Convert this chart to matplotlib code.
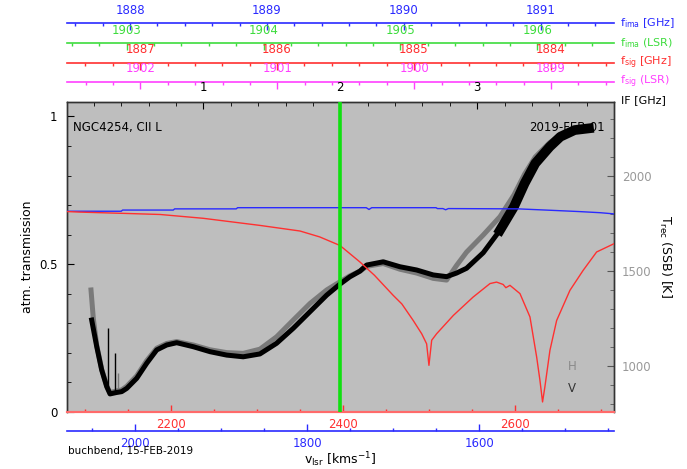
import numpy as np
import matplotlib
matplotlib.use("Agg")
import matplotlib.pyplot as plt
import matplotlib.ticker as mt

plt.rcParams['font.family'] = ['DejaVu Sans']
plt.rcParams['mathtext.fontset'] = 'dejavusans'

# ---------------- data ----------------
# image-band atmospheric transmission (blue)
if_img = [0.0, 0.40, 0.41, 0.78, 0.79, 1.24, 1.25, 1.30, 1.32, 2.19, 2.21, 2.23, 2.70,
          2.71, 2.75, 2.77, 2.79, 3.30, 3.50, 3.74, 3.90, 4.0]
atm_img = [0.679, 0.679, 0.683, 0.683, 0.687, 0.687, 0.691, 0.691, 0.691, 0.691, 0.685,
           0.691, 0.691, 0.688, 0.688, 0.684, 0.688, 0.687, 0.683, 0.678, 0.674, 0.670]
# signal-band atmospheric transmission (red)
if_sig = [0.0, 0.10, 0.40, 0.684, 1.0, 1.413, 1.706, 1.85, 1.998, 2.144, 2.25, 2.387, 2.45,
          2.533, 2.595, 2.631, 2.648, 2.668, 2.704, 2.826, 2.97, 3.094, 3.142, 3.19, 3.21,
          3.24, 3.313, 3.386, 3.435, 3.459, 3.478, 3.495, 3.532, 3.581, 3.678, 3.775, 3.873, 4.0]
atm_sig = [0.678, 0.676, 0.672, 0.668, 0.655, 0.631, 0.612, 0.592, 0.563, 0.507, 0.462, 0.394,
           0.365, 0.309, 0.264, 0.230, 0.157, 0.242, 0.264, 0.326, 0.388, 0.434, 0.439, 0.431,
           0.420, 0.428, 0.400, 0.321, 0.185, 0.106, 0.033, 0.084, 0.208, 0.309, 0.411, 0.479,
           0.541, 0.569]
# receiver temperature, V polarisation (black)
if_v = [0.184, 0.221, 0.257, 0.294, 0.318, 0.362, 0.403, 0.440, 0.513, 0.586, 0.659, 0.732,
        0.805, 0.926, 1.048, 1.170, 1.291, 1.413, 1.535, 1.657, 1.779, 1.901, 1.998, 2.07,
        2.144, 2.193, 2.314, 2.436, 2.558, 2.679, 2.777, 2.850, 2.923, 3.045, 3.167, 3.269,
        3.347, 3.425, 3.530, 3.608, 3.712, 3.817]
trec_v = [1243, 1103, 981, 893, 855, 862, 867, 884, 937, 1016, 1086, 1112, 1124, 1103, 1077,
          1059, 1050, 1065, 1121, 1200, 1287, 1374, 1432, 1470, 1500, 1532, 1549, 1523, 1506,
          1480, 1471, 1490, 1515, 1597, 1715, 1838, 1961, 2066, 2153, 2206, 2241, 2250]
# receiver temperature, H polarisation (grey)
if_h = [0.179, 0.196, 0.221, 0.257, 0.294, 0.318, 0.362, 0.403, 0.440, 0.513, 0.586, 0.659,
        0.732, 0.805, 0.926, 1.048, 1.170, 1.291, 1.413, 1.535, 1.657, 1.779, 1.901, 1.998,
        2.07, 2.144, 2.193, 2.314, 2.436, 2.558, 2.679, 2.777, 2.850, 2.923, 3.045, 3.167,
        3.269, 3.347, 3.425, 3.530, 3.608, 3.712, 3.817]
trec_h = [1401, 1250, 1110, 985, 897, 862, 870, 876, 895, 950, 1030, 1095, 1120, 1130, 1112,
          1087, 1072, 1068, 1090, 1155, 1243, 1330, 1401, 1444, 1475, 1500, 1525, 1540, 1510,
          1490, 1462, 1453, 1530, 1600, 1690, 1786, 1900, 2010, 2100, 2175, 2215, 2245, 2255]
# narrow spikes
spike_v_if = [0.301, 0.357]
spike_v_base = [880, 866]
spike_v_top = [1201, 1068]
spike_h_if = [0.374]
spike_h_base = [868]
spike_h_top = [965]
# line IF marker
line_if = 2.0
# axis conversions  (value = offset + slope * IF)
fima_off, fima_slope = 1887.536, 1.0
fimal_off, fimal_slope = 1902.56, 1.0
fsig_off, fsig_slope = 1887.538, -1.0
fsigl_off, fsigl_slope = 1902.54, -1.0
vsig_off, vsig_slope = 2079.0, 158.9
vlsr_off, vlsr_slope = 2079.5, -159.0
# tick labels
if_ticks = [1, 2, 3]
atm_ticks = [0, 0.5, 1]
atm_labels = ['0', '0.5', '1']
trec_ticks = [1000, 1500, 2000]
fima_ticks = [1888, 1889, 1890, 1891]
fimal_ticks = [1903, 1904, 1905, 1906]
fsig_ticks = [1884, 1885, 1886, 1887]
fsigl_ticks = [1899, 1900, 1901, 1902]
vsig_ticks = [2200, 2400, 2600]
vlsr_ticks = [1600, 1800, 2000]

# ---------------- styling ----------------
BLUE = '#2a2aff'
GREEN = '#3ddc3d'
RED = '#ff3030'
MAG = '#ff40ff'
BG = '#bebebe'
FS = 8.5

W, H = 687, 469
fig = plt.figure(figsize=(W / 100, H / 100), dpi=100)
L, R, T, B = 66.5, 614.0, 101.7, 411.7
ax = fig.add_axes([L / W, 1 - B / H, (R - L) / W, (B - T) / H])
ax2 = ax.twinx()
ax.set_zorder(2)
ax2.set_zorder(1)
ax.patch.set_visible(False)
ax2.patch.set_visible(True)
ax2.set_facecolor(BG)

ax.set_xlim(0, 4)
ax.set_ylim(0, 1.05)
ax2.set_ylim(761.6, 2390)

# T_rec curves (behind)
ax2.text(0.9836, 0.918, '2019-FEB-01', transform=ax2.transAxes, ha='right', va='center',
         fontsize=FS, color='black', zorder=1)
ax2.plot(if_h, trec_h, color='#7a7a7a', lw=3.6, solid_joinstyle='round', zorder=2)
ax2.plot(if_v, trec_v, color='black', lw=3.6, solid_joinstyle='round', zorder=3)
ax2.plot(if_v[-8:], trec_v[-8:], color='black', lw=7.0, solid_joinstyle='round', zorder=3)
ax2.vlines(spike_v_if, spike_v_base, spike_v_top, color='black', lw=1.0, zorder=3)
ax2.vlines(spike_h_if, spike_h_base, spike_h_top, color='#7a7a7a', lw=1.0, zorder=2)

# transmission curves (front)
ax.plot(if_img, atm_img, color=BLUE, lw=1.0, zorder=3)
ax.plot(if_sig, atm_sig, color=RED, lw=1.0, zorder=3)
ax.axvline(line_if, color='#10e010', lw=2.6, zorder=4)

ax.text(0.012, 0.918, 'NGC4254, CII L', transform=ax.transAxes, ha='left', va='center',
        fontsize=FS, color='black')
ax.text(0.923, 0.147, 'H', transform=ax.transAxes, ha='center', va='center', fontsize=FS,
        color='#8a8a8a')
ax.text(0.923, 0.076, 'V', transform=ax.transAxes, ha='center', va='center', fontsize=FS,
        color='#333333')

# main axes ticks
ax.xaxis.set_ticks_position('top')
ax.set_xticks(if_ticks)
ax.xaxis.set_minor_locator(mt.MultipleLocator(0.2))
ax.tick_params(axis='x', which='both', direction='in', top=True, bottom=False,
               labeltop=True, labelbottom=False, labelsize=FS, pad=5.5)
ax.tick_params(axis='x', which='major', length=5)
ax.tick_params(axis='x', which='minor', length=3)
ax.set_yticks(atm_ticks)
ax.set_yticklabels(atm_labels)
ax.yaxis.set_minor_locator(mt.MultipleLocator(0.1))
ax.tick_params(axis='y', which='both', direction='in', left=True, right=False,
               labelsize=FS, pad=6.5)
ax.tick_params(axis='y', which='major', length=5)
ax.tick_params(axis='y', which='minor', length=3)

ax2.set_yticks(trec_ticks)
ax2.yaxis.set_minor_locator(mt.MultipleLocator(100))
ax2.tick_params(axis='y', which='both', direction='in', labelsize=FS, pad=5.5,
                labelcolor='#999999', color='#555555')
ax2.tick_params(axis='y', which='major', length=5)
ax2.tick_params(axis='y', which='minor', length=3)

for a in (ax, ax2):
    for s in ('left', 'right', 'top'):
        a.spines[s].set_color('#333333')
        a.spines[s].set_linewidth(1.0)
    a.spines['bottom'].set_color('#ff6a6a')
    a.spines['bottom'].set_linewidth(1.5)


def lin(off, slope):
    return (lambda x: off + slope * np.asarray(x),
            lambda y: (np.asarray(y) - off) / slope)


def frac(ypix):
    return (B - ypix) / (B - T)


def sec_axis(loc, off, slope, color, ticks, minor, side):
    s = ax.secondary_xaxis(loc, functions=lin(off, slope))
    s.set_xticks(ticks)
    s.set_xticklabels([str(t) for t in ticks])
    s.xaxis.set_minor_locator(mt.MultipleLocator(minor))
    s.xaxis.set_minor_formatter(mt.NullFormatter())
    s.tick_params(axis='x', which='both', direction='in', colors=color, labelcolor=color,
                  labelsize=FS, pad=4.5)
    s.tick_params(axis='x', which='major', length=5, width=1.0)
    s.tick_params(axis='x', which='minor', length=2.5, width=1.0)
    s.spines[side].set_color(color)
    s.spines[side].set_linewidth(1.2)
    return s


sec_axis(frac(23.5), fima_off, fima_slope, BLUE, fima_ticks, 0.2, 'top')
sec_axis(frac(43.3), fimal_off, fimal_slope, GREEN, fimal_ticks, 0.2, 'top')
sec_axis(frac(62.7), fsig_off, fsig_slope, RED, fsig_ticks, 0.2, 'top')
sec_axis(frac(81.7), fsigl_off, fsigl_slope, MAG, fsigl_ticks, 0.2, 'top')
sred = sec_axis(0.0, vsig_off, vsig_slope, RED, vsig_ticks, 50, 'bottom')
sred.spines['bottom'].set_color('#ff6a6a')
sec_axis(frac(430.7), vlsr_off, vlsr_slope, BLUE, vlsr_ticks, 50, 'bottom')

# right-side scale names
RFS = 8
fig.text(620 / W, 1 - 23.3 / H, r'f$_{\rm ima}$ [GHz]', color=BLUE, va='center', fontsize=RFS)
fig.text(620 / W, 1 - 43.3 / H, r'f$_{\rm ima}$ (LSR)', color=GREEN, va='center', fontsize=RFS)
fig.text(620 / W, 1 - 62.7 / H, r'f$_{\rm sig}$ [GHz]', color=RED, va='center', fontsize=RFS)
fig.text(620 / W, 1 - 81.7 / H, r'f$_{\rm sig}$ (LSR)', color=MAG, va='center', fontsize=RFS)
fig.text(621 / W, 1 - 100.0 / H, 'IF [GHz]', color='black', va='center', fontsize=RFS)

# axis titles
fig.text(28 / W, 1 - 257 / H, 'atm. transmission', rotation=90, ha='center', va='center',
         fontsize=9)
fig.text(665 / W, 1 - 256 / H, r'T$_{\rm rec}$ (SSB) [K]', rotation=270, ha='center',
         va='center', fontsize=9)
fig.text(340 / W, 1 - 460 / H, r'v$_{\rm lsr}$ [kms$^{-1}$]', ha='center', va='center',
         fontsize=9)
fig.text(68 / W, 1 - 451 / H, 'buchbend, 15-FEB-2019', ha='left', va='center', fontsize=7.5)

fig.savefig('out.png', dpi=100, facecolor='white')
